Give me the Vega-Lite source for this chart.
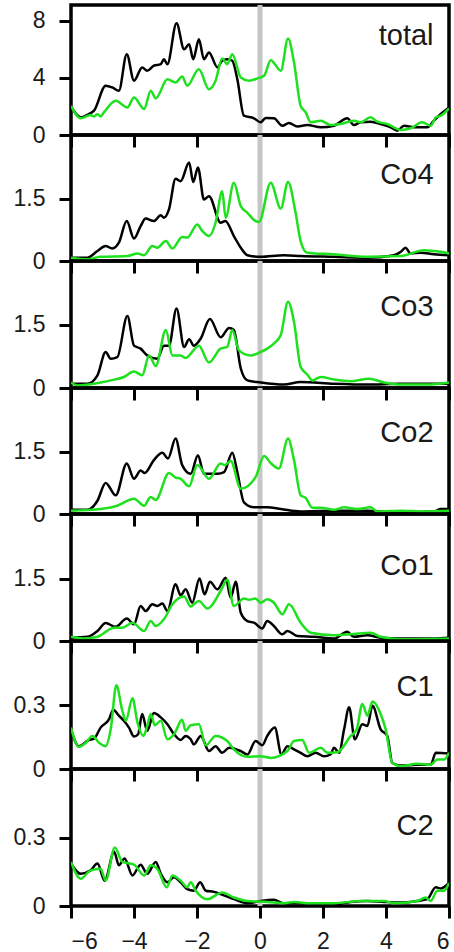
{
"$schema":"https://vega.github.io/schema/vega-lite/v6.json",
"padding":{"left":11,"top":0,"right":0,"bottom":0},
"spacing":0,
"bounds":"flush",
"config":{"view":{"stroke":"#000","strokeWidth":3.5},"font":"Liberation Sans",
"axis":{"domain":false,"grid":false,"tickColor":"#000","tickWidth":3,"tickSize":12,"labelFont":"Liberation Sans","labelFontSize":23,"labelColor":"#1a1a1a","title":null,"format":".2~g"}},
"datasets":{"pdos":[
{"p":"total","s":"k","x":-6,"y":2.0},{"p":"total","s":"k","x":-5.69,"y":1.24},{"p":"total","s":"k","x":-5.43,"y":1.47},{"p":"total","s":"k","x":-5.27,"y":1.7},{"p":"total","s":"k","x":-4.9,"y":3.45},{"p":"total","s":"k","x":-4.69,"y":3.33},{"p":"total","s":"k","x":-4.48,"y":3.1},{"p":"total","s":"k","x":-4.23,"y":5.66},{"p":"total","s":"k","x":-4.0,"y":3.8},{"p":"total","s":"k","x":-3.74,"y":4.73},{"p":"total","s":"k","x":-3.58,"y":4.5},{"p":"total","s":"k","x":-3.37,"y":4.85},{"p":"total","s":"k","x":-3.15,"y":4.96},{"p":"total","s":"k","x":-3.05,"y":5.3},{"p":"total","s":"k","x":-2.94,"y":4.96},{"p":"total","s":"k","x":-2.65,"y":7.83},{"p":"total","s":"k","x":-2.41,"y":6.0},{"p":"total","s":"k","x":-2.25,"y":6.36},{"p":"total","s":"k","x":-2.12,"y":5.3},{"p":"total","s":"k","x":-1.94,"y":6.7},{"p":"total","s":"k","x":-1.78,"y":5.3},{"p":"total","s":"k","x":-1.62,"y":5.78},{"p":"total","s":"k","x":-1.35,"y":4.73},{"p":"total","s":"k","x":-1.2,"y":5.2},{"p":"total","s":"k","x":-1.04,"y":5.3},{"p":"total","s":"k","x":-0.88,"y":5.2},{"p":"total","s":"k","x":-0.72,"y":3.9},{"p":"total","s":"k","x":-0.51,"y":1.35},{"p":"total","s":"k","x":-0.19,"y":1.17},{"p":"total","s":"k","x":0.02,"y":0.89},{"p":"total","s":"k","x":0.18,"y":1.19},{"p":"total","s":"k","x":0.44,"y":1.17},{"p":"total","s":"k","x":0.71,"y":0.65},{"p":"total","s":"k","x":0.92,"y":0.84},{"p":"total","s":"k","x":1.19,"y":0.6},{"p":"total","s":"k","x":1.5,"y":0.7},{"p":"total","s":"k","x":1.93,"y":0.54},{"p":"total","s":"k","x":2.35,"y":0.65},{"p":"total","s":"k","x":2.77,"y":1.17},{"p":"total","s":"k","x":2.98,"y":0.7},{"p":"total","s":"k","x":3.2,"y":0.89},{"p":"total","s":"k","x":3.51,"y":0.93},{"p":"total","s":"k","x":3.83,"y":0.77},{"p":"total","s":"k","x":4.15,"y":0.54},{"p":"total","s":"k","x":4.36,"y":0.3},{"p":"total","s":"k","x":4.57,"y":0.65},{"p":"total","s":"k","x":4.89,"y":0.54},{"p":"total","s":"k","x":5.31,"y":0.54},{"p":"total","s":"k","x":5.52,"y":1.0},{"p":"total","s":"k","x":5.74,"y":1.47},{"p":"total","s":"k","x":6.0,"y":1.93},
{"p":"total","s":"g","x":-6,"y":2.05},{"p":"total","s":"g","x":-5.69,"y":1.17},{"p":"total","s":"g","x":-5.38,"y":1.4},{"p":"total","s":"g","x":-5.27,"y":1.3},{"p":"total","s":"g","x":-5.16,"y":1.45},{"p":"total","s":"g","x":-5.06,"y":1.3},{"p":"total","s":"g","x":-4.95,"y":1.6},{"p":"total","s":"g","x":-4.58,"y":2.4},{"p":"total","s":"g","x":-4.21,"y":1.93},{"p":"total","s":"g","x":-4.0,"y":2.63},{"p":"total","s":"g","x":-3.68,"y":1.82},{"p":"total","s":"g","x":-3.47,"y":3.1},{"p":"total","s":"g","x":-3.31,"y":2.56},{"p":"total","s":"g","x":-2.94,"y":3.9},{"p":"total","s":"g","x":-2.68,"y":3.68},{"p":"total","s":"g","x":-2.47,"y":4.1},{"p":"total","s":"g","x":-2.31,"y":3.45},{"p":"total","s":"g","x":-1.94,"y":4.6},{"p":"total","s":"g","x":-1.62,"y":3.2},{"p":"total","s":"g","x":-1.41,"y":3.8},{"p":"total","s":"g","x":-1.2,"y":5.36},{"p":"total","s":"g","x":-1.04,"y":4.96},{"p":"total","s":"g","x":-0.88,"y":5.66},{"p":"total","s":"g","x":-0.61,"y":4.03},{"p":"total","s":"g","x":-0.35,"y":3.8},{"p":"total","s":"g","x":-0.08,"y":3.96},{"p":"total","s":"g","x":0.13,"y":4.15},{"p":"total","s":"g","x":0.34,"y":5.24},{"p":"total","s":"g","x":0.66,"y":4.5},{"p":"total","s":"g","x":0.89,"y":6.76},{"p":"total","s":"g","x":1.08,"y":5.08},{"p":"total","s":"g","x":1.29,"y":2.05},{"p":"total","s":"g","x":1.45,"y":1.58},{"p":"total","s":"g","x":1.61,"y":0.89},{"p":"total","s":"g","x":1.93,"y":1.0},{"p":"total","s":"g","x":2.24,"y":0.7},{"p":"total","s":"g","x":2.56,"y":0.77},{"p":"total","s":"g","x":2.98,"y":1.0},{"p":"total","s":"g","x":3.2,"y":0.89},{"p":"total","s":"g","x":3.51,"y":1.24},{"p":"total","s":"g","x":3.72,"y":0.93},{"p":"total","s":"g","x":4.04,"y":0.77},{"p":"total","s":"g","x":4.47,"y":0.35},{"p":"total","s":"g","x":4.78,"y":0.47},{"p":"total","s":"g","x":5.15,"y":0.89},{"p":"total","s":"g","x":5.42,"y":0.65},{"p":"total","s":"g","x":5.58,"y":1.24},{"p":"total","s":"g","x":5.74,"y":1.35},{"p":"total","s":"g","x":6.0,"y":1.86},
{"p":"Co4","s":"k","x":-6,"y":0.08},{"p":"Co4","s":"k","x":-5.48,"y":0.08},{"p":"Co4","s":"k","x":-5.16,"y":0.24},{"p":"Co4","s":"k","x":-4.9,"y":0.36},{"p":"Co4","s":"k","x":-4.69,"y":0.3},{"p":"Co4","s":"k","x":-4.48,"y":0.44},{"p":"Co4","s":"k","x":-4.23,"y":0.96},{"p":"Co4","s":"k","x":-4.0,"y":0.54},{"p":"Co4","s":"k","x":-3.79,"y":0.84},{"p":"Co4","s":"k","x":-3.63,"y":1.02},{"p":"Co4","s":"k","x":-3.37,"y":0.96},{"p":"Co4","s":"k","x":-3.15,"y":1.1},{"p":"Co4","s":"k","x":-3.05,"y":1.04},{"p":"Co4","s":"k","x":-2.89,"y":1.24},{"p":"Co4","s":"k","x":-2.68,"y":1.98},{"p":"Co4","s":"k","x":-2.52,"y":1.92},{"p":"Co4","s":"k","x":-2.25,"y":2.37},{"p":"Co4","s":"k","x":-2.12,"y":1.9},{"p":"Co4","s":"k","x":-1.97,"y":2.25},{"p":"Co4","s":"k","x":-1.78,"y":1.48},{"p":"Co4","s":"k","x":-1.62,"y":1.56},{"p":"Co4","s":"k","x":-1.25,"y":0.92},{"p":"Co4","s":"k","x":-1.1,"y":0.96},{"p":"Co4","s":"k","x":-0.83,"y":0.6},{"p":"Co4","s":"k","x":-0.61,"y":0.32},{"p":"Co4","s":"k","x":-0.4,"y":0.14},{"p":"Co4","s":"k","x":0.02,"y":0.1},{"p":"Co4","s":"k","x":0.76,"y":0.14},{"p":"Co4","s":"k","x":1.29,"y":0.12},{"p":"Co4","s":"k","x":2.35,"y":0.1},{"p":"Co4","s":"k","x":3.41,"y":0.08},{"p":"Co4","s":"k","x":4.25,"y":0.14},{"p":"Co4","s":"k","x":4.47,"y":0.22},{"p":"Co4","s":"k","x":4.62,"y":0.32},{"p":"Co4","s":"k","x":4.78,"y":0.18},{"p":"Co4","s":"k","x":5.1,"y":0.2},{"p":"Co4","s":"k","x":5.52,"y":0.16},{"p":"Co4","s":"k","x":6.0,"y":0.14},
{"p":"Co4","s":"g","x":-6,"y":0.08},{"p":"Co4","s":"g","x":-5.48,"y":0.04},{"p":"Co4","s":"g","x":-5.06,"y":0.1},{"p":"Co4","s":"g","x":-4.21,"y":0.12},{"p":"Co4","s":"g","x":-3.89,"y":0.18},{"p":"Co4","s":"g","x":-3.68,"y":0.14},{"p":"Co4","s":"g","x":-3.42,"y":0.36},{"p":"Co4","s":"g","x":-3.26,"y":0.32},{"p":"Co4","s":"g","x":-2.99,"y":0.48},{"p":"Co4","s":"g","x":-2.78,"y":0.3},{"p":"Co4","s":"g","x":-2.47,"y":0.58},{"p":"Co4","s":"g","x":-2.31,"y":0.56},{"p":"Co4","s":"g","x":-1.99,"y":0.88},{"p":"Co4","s":"g","x":-1.83,"y":0.72},{"p":"Co4","s":"g","x":-1.62,"y":0.6},{"p":"Co4","s":"g","x":-1.41,"y":0.92},{"p":"Co4","s":"g","x":-1.2,"y":1.68},{"p":"Co4","s":"g","x":-1.09,"y":1.04},{"p":"Co4","s":"g","x":-0.83,"y":1.88},{"p":"Co4","s":"g","x":-0.61,"y":1.32},{"p":"Co4","s":"g","x":-0.4,"y":1.16},{"p":"Co4","s":"g","x":-0.14,"y":0.96},{"p":"Co4","s":"g","x":-0.03,"y":0.94},{"p":"Co4","s":"g","x":0.34,"y":1.88},{"p":"Co4","s":"g","x":0.66,"y":1.26},{"p":"Co4","s":"g","x":0.89,"y":1.9},{"p":"Co4","s":"g","x":1.13,"y":1.16},{"p":"Co4","s":"g","x":1.29,"y":0.48},{"p":"Co4","s":"g","x":1.5,"y":0.2},{"p":"Co4","s":"g","x":2.35,"y":0.16},{"p":"Co4","s":"g","x":3.41,"y":0.1},{"p":"Co4","s":"g","x":4.47,"y":0.12},{"p":"Co4","s":"g","x":5.21,"y":0.26},{"p":"Co4","s":"g","x":5.52,"y":0.24},{"p":"Co4","s":"g","x":5.74,"y":0.22},{"p":"Co4","s":"g","x":6.0,"y":0.18},
{"p":"Co3","s":"k","x":-6,"y":0.1},{"p":"Co3","s":"k","x":-5.48,"y":0.1},{"p":"Co3","s":"k","x":-5.16,"y":0.3},{"p":"Co3","s":"k","x":-4.9,"y":0.85},{"p":"Co3","s":"k","x":-4.74,"y":0.69},{"p":"Co3","s":"k","x":-4.53,"y":0.73},{"p":"Co3","s":"k","x":-4.21,"y":1.7},{"p":"Co3","s":"k","x":-4.0,"y":1.0},{"p":"Co3","s":"k","x":-3.79,"y":0.93},{"p":"Co3","s":"k","x":-3.58,"y":0.77},{"p":"Co3","s":"k","x":-3.26,"y":0.69},{"p":"Co3","s":"k","x":-3.05,"y":1.0},{"p":"Co3","s":"k","x":-2.89,"y":1.0},{"p":"Co3","s":"k","x":-2.65,"y":1.88},{"p":"Co3","s":"k","x":-2.41,"y":0.97},{"p":"Co3","s":"k","x":-2.25,"y":1.15},{"p":"Co3","s":"k","x":-2.1,"y":1.0},{"p":"Co3","s":"k","x":-1.88,"y":1.17},{"p":"Co3","s":"k","x":-1.59,"y":1.63},{"p":"Co3","s":"k","x":-1.25,"y":1.2},{"p":"Co3","s":"k","x":-0.98,"y":1.42},{"p":"Co3","s":"k","x":-0.83,"y":1.37},{"p":"Co3","s":"k","x":-0.61,"y":0.46},{"p":"Co3","s":"k","x":-0.4,"y":0.18},{"p":"Co3","s":"k","x":0.02,"y":0.13},{"p":"Co3","s":"k","x":0.76,"y":0.08},{"p":"Co3","s":"k","x":1.29,"y":0.14},{"p":"Co3","s":"k","x":2.35,"y":0.1},{"p":"Co3","s":"k","x":3.41,"y":0.08},{"p":"Co3","s":"k","x":4.47,"y":0.1},{"p":"Co3","s":"k","x":6.0,"y":0.1},
{"p":"Co3","s":"g","x":-6,"y":0.13},{"p":"Co3","s":"g","x":-5.8,"y":0.06},{"p":"Co3","s":"g","x":-5.06,"y":0.13},{"p":"Co3","s":"g","x":-4.74,"y":0.18},{"p":"Co3","s":"g","x":-4.32,"y":0.26},{"p":"Co3","s":"g","x":-4.0,"y":0.39},{"p":"Co3","s":"g","x":-3.74,"y":0.3},{"p":"Co3","s":"g","x":-3.52,"y":0.77},{"p":"Co3","s":"g","x":-3.31,"y":0.52},{"p":"Co3","s":"g","x":-2.99,"y":1.37},{"p":"Co3","s":"g","x":-2.78,"y":0.77},{"p":"Co3","s":"g","x":-2.52,"y":0.77},{"p":"Co3","s":"g","x":-2.36,"y":0.71},{"p":"Co3","s":"g","x":-1.94,"y":1.0},{"p":"Co3","s":"g","x":-1.62,"y":0.6},{"p":"Co3","s":"g","x":-1.25,"y":0.93},{"p":"Co3","s":"g","x":-1.04,"y":0.97},{"p":"Co3","s":"g","x":-0.88,"y":1.37},{"p":"Co3","s":"g","x":-0.67,"y":0.89},{"p":"Co3","s":"g","x":-0.3,"y":0.77},{"p":"Co3","s":"g","x":0.02,"y":0.85},{"p":"Co3","s":"g","x":0.23,"y":0.93},{"p":"Co3","s":"g","x":0.44,"y":1.05},{"p":"Co3","s":"g","x":0.66,"y":1.25},{"p":"Co3","s":"g","x":0.89,"y":2.04},{"p":"Co3","s":"g","x":1.08,"y":1.56},{"p":"Co3","s":"g","x":1.29,"y":0.5},{"p":"Co3","s":"g","x":1.5,"y":0.32},{"p":"Co3","s":"g","x":1.66,"y":0.18},{"p":"Co3","s":"g","x":1.93,"y":0.26},{"p":"Co3","s":"g","x":2.35,"y":0.2},{"p":"Co3","s":"g","x":2.88,"y":0.16},{"p":"Co3","s":"g","x":3.46,"y":0.22},{"p":"Co3","s":"g","x":3.94,"y":0.13},{"p":"Co3","s":"g","x":4.47,"y":0.08},{"p":"Co3","s":"g","x":5.31,"y":0.08},{"p":"Co3","s":"g","x":6.0,"y":0.13},
{"p":"Co2","s":"k","x":-6,"y":0.1},{"p":"Co2","s":"k","x":-5.48,"y":0.1},{"p":"Co2","s":"k","x":-5.16,"y":0.32},{"p":"Co2","s":"k","x":-4.9,"y":0.75},{"p":"Co2","s":"k","x":-4.58,"y":0.45},{"p":"Co2","s":"k","x":-4.23,"y":1.22},{"p":"Co2","s":"k","x":-4.0,"y":0.85},{"p":"Co2","s":"k","x":-3.79,"y":1.05},{"p":"Co2","s":"k","x":-3.66,"y":0.99},{"p":"Co2","s":"k","x":-3.37,"y":1.3},{"p":"Co2","s":"k","x":-3.1,"y":1.48},{"p":"Co2","s":"k","x":-2.92,"y":1.34},{"p":"Co2","s":"k","x":-2.68,"y":1.82},{"p":"Co2","s":"k","x":-2.47,"y":1.18},{"p":"Co2","s":"k","x":-2.2,"y":0.97},{"p":"Co2","s":"k","x":-1.97,"y":1.42},{"p":"Co2","s":"k","x":-1.78,"y":0.97},{"p":"Co2","s":"k","x":-1.35,"y":0.97},{"p":"Co2","s":"k","x":-1.14,"y":1.01},{"p":"Co2","s":"k","x":-0.88,"y":1.48},{"p":"Co2","s":"k","x":-0.72,"y":1.01},{"p":"Co2","s":"k","x":-0.51,"y":0.28},{"p":"Co2","s":"k","x":-0.19,"y":0.16},{"p":"Co2","s":"k","x":0.23,"y":0.16},{"p":"Co2","s":"k","x":0.66,"y":0.12},{"p":"Co2","s":"k","x":1.29,"y":0.06},{"p":"Co2","s":"k","x":2.35,"y":0.08},{"p":"Co2","s":"k","x":3.41,"y":0.08},{"p":"Co2","s":"k","x":4.47,"y":0.04},{"p":"Co2","s":"k","x":5.52,"y":0.06},{"p":"Co2","s":"k","x":5.74,"y":0.12},{"p":"Co2","s":"k","x":6.0,"y":0.12},
{"p":"Co2","s":"g","x":-6,"y":0.08},{"p":"Co2","s":"g","x":-5.06,"y":0.12},{"p":"Co2","s":"g","x":-4.53,"y":0.2},{"p":"Co2","s":"g","x":-4.0,"y":0.37},{"p":"Co2","s":"g","x":-3.68,"y":0.2},{"p":"Co2","s":"g","x":-3.47,"y":0.41},{"p":"Co2","s":"g","x":-3.31,"y":0.34},{"p":"Co2","s":"g","x":-2.89,"y":0.99},{"p":"Co2","s":"g","x":-2.68,"y":0.88},{"p":"Co2","s":"g","x":-2.52,"y":0.85},{"p":"Co2","s":"g","x":-2.25,"y":0.67},{"p":"Co2","s":"g","x":-1.99,"y":1.18},{"p":"Co2","s":"g","x":-1.62,"y":0.85},{"p":"Co2","s":"g","x":-1.25,"y":1.22},{"p":"Co2","s":"g","x":-1.12,"y":1.18},{"p":"Co2","s":"g","x":-0.93,"y":1.28},{"p":"Co2","s":"g","x":-0.61,"y":0.61},{"p":"Co2","s":"g","x":-0.14,"y":0.89},{"p":"Co2","s":"g","x":0.13,"y":1.4},{"p":"Co2","s":"g","x":0.34,"y":1.23},{"p":"Co2","s":"g","x":0.6,"y":1.1},{"p":"Co2","s":"g","x":0.89,"y":1.82},{"p":"Co2","s":"g","x":1.08,"y":1.3},{"p":"Co2","s":"g","x":1.29,"y":0.45},{"p":"Co2","s":"g","x":1.45,"y":0.39},{"p":"Co2","s":"g","x":1.66,"y":0.15},{"p":"Co2","s":"g","x":1.93,"y":0.15},{"p":"Co2","s":"g","x":2.35,"y":0.1},{"p":"Co2","s":"g","x":2.67,"y":0.16},{"p":"Co2","s":"g","x":3.09,"y":0.12},{"p":"Co2","s":"g","x":3.51,"y":0.16},{"p":"Co2","s":"g","x":3.72,"y":0.06},{"p":"Co2","s":"g","x":4.47,"y":0.08},{"p":"Co2","s":"g","x":5.21,"y":0.06},{"p":"Co2","s":"g","x":6.0,"y":0.08},
{"p":"Co1","s":"k","x":-6,"y":0.08},{"p":"Co1","s":"k","x":-5.48,"y":0.1},{"p":"Co1","s":"k","x":-5.16,"y":0.24},{"p":"Co1","s":"k","x":-4.9,"y":0.43},{"p":"Co1","s":"k","x":-4.58,"y":0.34},{"p":"Co1","s":"k","x":-4.23,"y":0.54},{"p":"Co1","s":"k","x":-4.0,"y":0.4},{"p":"Co1","s":"k","x":-3.79,"y":0.84},{"p":"Co1","s":"k","x":-3.63,"y":0.72},{"p":"Co1","s":"k","x":-3.42,"y":0.88},{"p":"Co1","s":"k","x":-3.26,"y":0.84},{"p":"Co1","s":"k","x":-3.1,"y":0.9},{"p":"Co1","s":"k","x":-2.94,"y":0.72},{"p":"Co1","s":"k","x":-2.68,"y":1.36},{"p":"Co1","s":"k","x":-2.52,"y":1.1},{"p":"Co1","s":"k","x":-2.36,"y":1.24},{"p":"Co1","s":"k","x":-2.15,"y":0.92},{"p":"Co1","s":"k","x":-1.92,"y":1.5},{"p":"Co1","s":"k","x":-1.76,"y":1.12},{"p":"Co1","s":"k","x":-1.59,"y":1.42},{"p":"Co1","s":"k","x":-1.35,"y":1.24},{"p":"Co1","s":"k","x":-1.09,"y":1.52},{"p":"Co1","s":"k","x":-0.93,"y":1.04},{"p":"Co1","s":"k","x":-0.77,"y":1.42},{"p":"Co1","s":"k","x":-0.61,"y":0.68},{"p":"Co1","s":"k","x":-0.4,"y":0.48},{"p":"Co1","s":"k","x":-0.19,"y":0.44},{"p":"Co1","s":"k","x":0.07,"y":0.3},{"p":"Co1","s":"k","x":0.23,"y":0.48},{"p":"Co1","s":"k","x":0.44,"y":0.36},{"p":"Co1","s":"k","x":0.71,"y":0.16},{"p":"Co1","s":"k","x":0.87,"y":0.24},{"p":"Co1","s":"k","x":1.19,"y":0.12},{"p":"Co1","s":"k","x":1.71,"y":0.1},{"p":"Co1","s":"k","x":2.35,"y":0.06},{"p":"Co1","s":"k","x":2.77,"y":0.22},{"p":"Co1","s":"k","x":2.98,"y":0.1},{"p":"Co1","s":"k","x":3.41,"y":0.14},{"p":"Co1","s":"k","x":3.83,"y":0.08},{"p":"Co1","s":"k","x":4.47,"y":0.06},{"p":"Co1","s":"k","x":5.52,"y":0.06},{"p":"Co1","s":"k","x":6.0,"y":0.08},
{"p":"Co1","s":"g","x":-6,"y":0.1},{"p":"Co1","s":"g","x":-5.59,"y":0.06},{"p":"Co1","s":"g","x":-5.16,"y":0.1},{"p":"Co1","s":"g","x":-4.63,"y":0.32},{"p":"Co1","s":"g","x":-4.37,"y":0.32},{"p":"Co1","s":"g","x":-4.05,"y":0.44},{"p":"Co1","s":"g","x":-3.68,"y":0.24},{"p":"Co1","s":"g","x":-3.47,"y":0.48},{"p":"Co1","s":"g","x":-3.31,"y":0.36},{"p":"Co1","s":"g","x":-3.05,"y":0.52},{"p":"Co1","s":"g","x":-2.78,"y":0.88},{"p":"Co1","s":"g","x":-2.41,"y":1.07},{"p":"Co1","s":"g","x":-2.2,"y":0.83},{"p":"Co1","s":"g","x":-1.94,"y":0.96},{"p":"Co1","s":"g","x":-1.67,"y":0.78},{"p":"Co1","s":"g","x":-1.25,"y":1.2},{"p":"Co1","s":"g","x":-1.04,"y":1.47},{"p":"Co1","s":"g","x":-0.83,"y":0.84},{"p":"Co1","s":"g","x":-0.51,"y":1.02},{"p":"Co1","s":"g","x":-0.35,"y":0.99},{"p":"Co1","s":"g","x":-0.14,"y":1.02},{"p":"Co1","s":"g","x":0.02,"y":0.92},{"p":"Co1","s":"g","x":0.23,"y":1.0},{"p":"Co1","s":"g","x":0.44,"y":0.92},{"p":"Co1","s":"g","x":0.71,"y":0.64},{"p":"Co1","s":"g","x":0.92,"y":0.88},{"p":"Co1","s":"g","x":1.29,"y":0.44},{"p":"Co1","s":"g","x":1.61,"y":0.2},{"p":"Co1","s":"g","x":2.35,"y":0.14},{"p":"Co1","s":"g","x":2.88,"y":0.16},{"p":"Co1","s":"g","x":3.51,"y":0.2},{"p":"Co1","s":"g","x":3.83,"y":0.1},{"p":"Co1","s":"g","x":4.47,"y":0.04},{"p":"Co1","s":"g","x":6.0,"y":0.06},
{"p":"C1","s":"k","x":-6,"y":0.186},{"p":"C1","s":"k","x":-5.75,"y":0.107},{"p":"C1","s":"k","x":-5.43,"y":0.136},{"p":"C1","s":"k","x":-5.27,"y":0.142},{"p":"C1","s":"k","x":-5.06,"y":0.194},{"p":"C1","s":"k","x":-4.79,"y":0.234},{"p":"C1","s":"k","x":-4.66,"y":0.278},{"p":"C1","s":"k","x":-4.48,"y":0.25},{"p":"C1","s":"k","x":-4.32,"y":0.226},{"p":"C1","s":"k","x":-4.16,"y":0.194},{"p":"C1","s":"k","x":-4.0,"y":0.152},{"p":"C1","s":"k","x":-3.87,"y":0.163},{"p":"C1","s":"k","x":-3.74,"y":0.258},{"p":"C1","s":"k","x":-3.58,"y":0.179},{"p":"C1","s":"k","x":-3.37,"y":0.262},{"p":"C1","s":"k","x":-3.15,"y":0.242},{"p":"C1","s":"k","x":-2.94,"y":0.21},{"p":"C1","s":"k","x":-2.73,"y":0.163},{"p":"C1","s":"k","x":-2.52,"y":0.136},{"p":"C1","s":"k","x":-2.36,"y":0.155},{"p":"C1","s":"k","x":-2.2,"y":0.139},{"p":"C1","s":"k","x":-2.1,"y":0.115},{"p":"C1","s":"k","x":-1.88,"y":0.155},{"p":"C1","s":"k","x":-1.62,"y":0.084},{"p":"C1","s":"k","x":-1.41,"y":0.107},{"p":"C1","s":"k","x":-1.2,"y":0.076},{"p":"C1","s":"k","x":-0.98,"y":0.1},{"p":"C1","s":"k","x":-0.61,"y":0.084},{"p":"C1","s":"k","x":-0.4,"y":0.068},{"p":"C1","s":"k","x":-0.14,"y":0.131},{"p":"C1","s":"k","x":0.07,"y":0.111},{"p":"C1","s":"k","x":0.23,"y":0.155},{"p":"C1","s":"k","x":0.47,"y":0.194},{"p":"C1","s":"k","x":0.68,"y":0.068},{"p":"C1","s":"k","x":0.87,"y":0.107},{"p":"C1","s":"k","x":1.08,"y":0.092},{"p":"C1","s":"k","x":1.29,"y":0.076},{"p":"C1","s":"k","x":1.5,"y":0.06},{"p":"C1","s":"k","x":1.77,"y":0.076},{"p":"C1","s":"k","x":2.03,"y":0.06},{"p":"C1","s":"k","x":2.24,"y":0.068},{"p":"C1","s":"k","x":2.35,"y":0.1},{"p":"C1","s":"k","x":2.51,"y":0.076},{"p":"C1","s":"k","x":2.67,"y":0.186},{"p":"C1","s":"k","x":2.83,"y":0.289},{"p":"C1","s":"k","x":3.01,"y":0.139},{"p":"C1","s":"k","x":3.25,"y":0.21},{"p":"C1","s":"k","x":3.41,"y":0.202},{"p":"C1","s":"k","x":3.57,"y":0.297},{"p":"C1","s":"k","x":3.83,"y":0.186},{"p":"C1","s":"k","x":4.04,"y":0.155},{"p":"C1","s":"k","x":4.2,"y":0.028},{"p":"C1","s":"k","x":4.47,"y":0.016},{"p":"C1","s":"k","x":4.99,"y":0.02},{"p":"C1","s":"k","x":5.42,"y":0.02},{"p":"C1","s":"k","x":5.58,"y":0.076},{"p":"C1","s":"k","x":6.0,"y":0.073},
{"p":"C1","s":"g","x":-6,"y":0.194},{"p":"C1","s":"g","x":-5.75,"y":0.104},{"p":"C1","s":"g","x":-5.53,"y":0.123},{"p":"C1","s":"g","x":-5.32,"y":0.155},{"p":"C1","s":"g","x":-5.11,"y":0.123},{"p":"C1","s":"g","x":-4.9,"y":0.107},{"p":"C1","s":"g","x":-4.74,"y":0.186},{"p":"C1","s":"g","x":-4.56,"y":0.392},{"p":"C1","s":"g","x":-4.37,"y":0.273},{"p":"C1","s":"g","x":-4.26,"y":0.226},{"p":"C1","s":"g","x":-4.05,"y":0.332},{"p":"C1","s":"g","x":-3.89,"y":0.218},{"p":"C1","s":"g","x":-3.7,"y":0.155},{"p":"C1","s":"g","x":-3.58,"y":0.202},{"p":"C1","s":"g","x":-3.47,"y":0.258},{"p":"C1","s":"g","x":-3.34,"y":0.205},{"p":"C1","s":"g","x":-3.15,"y":0.226},{"p":"C1","s":"g","x":-2.94,"y":0.139},{"p":"C1","s":"g","x":-2.73,"y":0.163},{"p":"C1","s":"g","x":-2.47,"y":0.231},{"p":"C1","s":"g","x":-2.36,"y":0.179},{"p":"C1","s":"g","x":-2.2,"y":0.205},{"p":"C1","s":"g","x":-1.94,"y":0.21},{"p":"C1","s":"g","x":-1.72,"y":0.111},{"p":"C1","s":"g","x":-1.41,"y":0.155},{"p":"C1","s":"g","x":-1.04,"y":0.131},{"p":"C1","s":"g","x":-0.83,"y":0.092},{"p":"C1","s":"g","x":-0.4,"y":0.057},{"p":"C1","s":"g","x":0.02,"y":0.06},{"p":"C1","s":"g","x":0.34,"y":0.052},{"p":"C1","s":"g","x":0.87,"y":0.084},{"p":"C1","s":"g","x":1.08,"y":0.131},{"p":"C1","s":"g","x":1.34,"y":0.136},{"p":"C1","s":"g","x":1.56,"y":0.076},{"p":"C1","s":"g","x":1.93,"y":0.1},{"p":"C1","s":"g","x":2.14,"y":0.076},{"p":"C1","s":"g","x":2.46,"y":0.079},{"p":"C1","s":"g","x":2.88,"y":0.155},{"p":"C1","s":"g","x":3.07,"y":0.186},{"p":"C1","s":"g","x":3.25,"y":0.305},{"p":"C1","s":"g","x":3.41,"y":0.25},{"p":"C1","s":"g","x":3.57,"y":0.316},{"p":"C1","s":"g","x":3.83,"y":0.258},{"p":"C1","s":"g","x":3.99,"y":0.186},{"p":"C1","s":"g","x":4.2,"y":0.028},{"p":"C1","s":"g","x":4.47,"y":0.013},{"p":"C1","s":"g","x":4.99,"y":0.025},{"p":"C1","s":"g","x":5.42,"y":0.02},{"p":"C1","s":"g","x":5.63,"y":0.044},{"p":"C1","s":"g","x":5.84,"y":0.044},{"p":"C1","s":"g","x":6.0,"y":0.076},
{"p":"C2","s":"k","x":-6,"y":0.186},{"p":"C2","s":"k","x":-5.69,"y":0.141},{"p":"C2","s":"k","x":-5.38,"y":0.156},{"p":"C2","s":"k","x":-5.16,"y":0.186},{"p":"C2","s":"k","x":-4.93,"y":0.111},{"p":"C2","s":"k","x":-4.63,"y":0.238},{"p":"C2","s":"k","x":-4.48,"y":0.178},{"p":"C2","s":"k","x":-4.3,"y":0.208},{"p":"C2","s":"k","x":-4.05,"y":0.134},{"p":"C2","s":"k","x":-3.79,"y":0.181},{"p":"C2","s":"k","x":-3.58,"y":0.141},{"p":"C2","s":"k","x":-3.31,"y":0.193},{"p":"C2","s":"k","x":-3.15,"y":0.141},{"p":"C2","s":"k","x":-2.94,"y":0.104},{"p":"C2","s":"k","x":-2.73,"y":0.126},{"p":"C2","s":"k","x":-2.52,"y":0.104},{"p":"C2","s":"k","x":-2.31,"y":0.074},{"p":"C2","s":"k","x":-2.1,"y":0.067},{"p":"C2","s":"k","x":-1.9,"y":0.104},{"p":"C2","s":"k","x":-1.72,"y":0.067},{"p":"C2","s":"k","x":-1.46,"y":0.062},{"p":"C2","s":"k","x":-1.25,"y":0.052},{"p":"C2","s":"k","x":-0.83,"y":0.03},{"p":"C2","s":"k","x":-0.4,"y":0.012},{"p":"C2","s":"k","x":0.02,"y":0.022},{"p":"C2","s":"k","x":0.44,"y":0.027},{"p":"C2","s":"k","x":0.76,"y":0.012},{"p":"C2","s":"k","x":1.29,"y":0.012},{"p":"C2","s":"k","x":2.35,"y":0.007},{"p":"C2","s":"k","x":2.88,"y":0.018},{"p":"C2","s":"k","x":3.41,"y":0.022},{"p":"C2","s":"k","x":3.94,"y":0.018},{"p":"C2","s":"k","x":4.47,"y":0.015},{"p":"C2","s":"k","x":4.99,"y":0.022},{"p":"C2","s":"k","x":5.31,"y":0.03},{"p":"C2","s":"k","x":5.58,"y":0.082},{"p":"C2","s":"k","x":5.74,"y":0.077},{"p":"C2","s":"k","x":6.0,"y":0.101},
{"p":"C2","s":"g","x":-6,"y":0.193},{"p":"C2","s":"g","x":-5.69,"y":0.119},{"p":"C2","s":"g","x":-5.38,"y":0.156},{"p":"C2","s":"g","x":-5.06,"y":0.163},{"p":"C2","s":"g","x":-4.9,"y":0.111},{"p":"C2","s":"g","x":-4.61,"y":0.256},{"p":"C2","s":"g","x":-4.37,"y":0.193},{"p":"C2","s":"g","x":-4.0,"y":0.181},{"p":"C2","s":"g","x":-3.68,"y":0.134},{"p":"C2","s":"g","x":-3.47,"y":0.178},{"p":"C2","s":"g","x":-3.26,"y":0.163},{"p":"C2","s":"g","x":-2.96,"y":0.082},{"p":"C2","s":"g","x":-2.78,"y":0.134},{"p":"C2","s":"g","x":-2.52,"y":0.111},{"p":"C2","s":"g","x":-2.31,"y":0.082},{"p":"C2","s":"g","x":-2.2,"y":0.104},{"p":"C2","s":"g","x":-2.04,"y":0.067},{"p":"C2","s":"g","x":-1.67,"y":0.03},{"p":"C2","s":"g","x":-1.2,"y":0.059},{"p":"C2","s":"g","x":-0.83,"y":0.037},{"p":"C2","s":"g","x":-0.4,"y":0.022},{"p":"C2","s":"g","x":0.23,"y":0.018},{"p":"C2","s":"g","x":0.76,"y":0.012},{"p":"C2","s":"g","x":1.08,"y":0.018},{"p":"C2","s":"g","x":1.5,"y":0.012},{"p":"C2","s":"g","x":2.35,"y":0.012},{"p":"C2","s":"g","x":3.2,"y":0.022},{"p":"C2","s":"g","x":3.94,"y":0.022},{"p":"C2","s":"g","x":4.25,"y":0.012},{"p":"C2","s":"g","x":4.99,"y":0.022},{"p":"C2","s":"g","x":5.26,"y":0.037},{"p":"C2","s":"g","x":5.42,"y":0.022},{"p":"C2","s":"g","x":5.63,"y":0.067},{"p":"C2","s":"g","x":5.84,"y":0.067},{"p":"C2","s":"g","x":6.0,"y":0.101}
]},
"vconcat":[
{"width":378,"height":130,"layer":[
{"data":{"values":[{}]},"mark":{"type":"rule","color":"#c6c6c6","strokeWidth":5},"encoding":{"x":{"datum":0,"type":"quantitative","scale":{"domain":[-6,6],"nice":false}}}},
{"data":{"name":"pdos"},"transform":[{"filter":"datum.p==='total'"}],"mark":{"type":"line","strokeWidth":2.5,"clip":true,"interpolate":"monotone"},"encoding":{"x":{"field":"x","type":"quantitative","scale":{"domain":[-6,6],"nice":false},"axis":{"values":[-6,-4,-2,0,2,4,6],"labels":false}},"y":{"field":"y","type":"quantitative","scale":{"domain":[0,9.1],"nice":false},"axis":{"values":[0,4,8],"labelPadding":14}},"color":{"field":"s","type":"nominal","scale":{"domain":["k","g"],"range":["#000000","#1ee11e"]},"legend":null}}},
{"data":{"values":[{"label":"total"}]},"mark":{"type":"text","align":"right","baseline":"alphabetic","fontSize":29,"font":"Liberation Sans","color":"#1a1a1a"},"encoding":{"x":{"datum":5.51,"type":"quantitative"},"y":{"datum":6.3,"type":"quantitative"},"text":{"field":"label"}}}
]},
{"width":378,"height":126,"layer":[
{"data":{"values":[{}]},"mark":{"type":"rule","color":"#c6c6c6","strokeWidth":5},"encoding":{"x":{"datum":0,"type":"quantitative","scale":{"domain":[-6,6],"nice":false}}}},
{"data":{"name":"pdos"},"transform":[{"filter":"datum.p==='Co4'"}],"mark":{"type":"line","strokeWidth":2.5,"clip":true,"interpolate":"monotone"},"encoding":{"x":{"field":"x","type":"quantitative","scale":{"domain":[-6,6],"nice":false},"axis":{"values":[-6,-4,-2,0,2,4,6],"labels":false}},"y":{"field":"y","type":"quantitative","scale":{"domain":[0,3.03],"nice":false},"axis":{"values":[0,1.5],"labelPadding":14}},"color":{"field":"s","type":"nominal","scale":{"domain":["k","g"],"range":["#000000","#1ee11e"]},"legend":null}}},
{"data":{"values":[{"label":"Co4"}]},"mark":{"type":"text","align":"right","baseline":"alphabetic","fontSize":29,"font":"Liberation Sans","color":"#1a1a1a"},"encoding":{"x":{"datum":5.51,"type":"quantitative"},"y":{"datum":1.84,"type":"quantitative"},"text":{"field":"label"}}}
]},
{"width":378,"height":127,"layer":[
{"data":{"values":[{}]},"mark":{"type":"rule","color":"#c6c6c6","strokeWidth":5},"encoding":{"x":{"datum":0,"type":"quantitative","scale":{"domain":[-6,6],"nice":false}}}},
{"data":{"name":"pdos"},"transform":[{"filter":"datum.p==='Co3'"}],"mark":{"type":"line","strokeWidth":2.5,"clip":true,"interpolate":"monotone"},"encoding":{"x":{"field":"x","type":"quantitative","scale":{"domain":[-6,6],"nice":false},"axis":{"values":[-6,-4,-2,0,2,4,6],"labels":false}},"y":{"field":"y","type":"quantitative","scale":{"domain":[0,3.0],"nice":false},"axis":{"values":[0,1.5],"labelPadding":14}},"color":{"field":"s","type":"nominal","scale":{"domain":["k","g"],"range":["#000000","#1ee11e"]},"legend":null}}},
{"data":{"values":[{"label":"Co3"}]},"mark":{"type":"text","align":"right","baseline":"alphabetic","fontSize":29,"font":"Liberation Sans","color":"#1a1a1a"},"encoding":{"x":{"datum":5.51,"type":"quantitative"},"y":{"datum":1.71,"type":"quantitative"},"text":{"field":"label"}}}
]},
{"width":378,"height":126,"layer":[
{"data":{"values":[{}]},"mark":{"type":"rule","color":"#c6c6c6","strokeWidth":5},"encoding":{"x":{"datum":0,"type":"quantitative","scale":{"domain":[-6,6],"nice":false}}}},
{"data":{"name":"pdos"},"transform":[{"filter":"datum.p==='Co2'"}],"mark":{"type":"line","strokeWidth":2.5,"clip":true,"interpolate":"monotone"},"encoding":{"x":{"field":"x","type":"quantitative","scale":{"domain":[-6,6],"nice":false},"axis":{"values":[-6,-4,-2,0,2,4,6],"labels":false}},"y":{"field":"y","type":"quantitative","scale":{"domain":[0,3.04],"nice":false},"axis":{"values":[0,1.5],"labelPadding":14}},"color":{"field":"s","type":"nominal","scale":{"domain":["k","g"],"range":["#000000","#1ee11e"]},"legend":null}}},
{"data":{"values":[{"label":"Co2"}]},"mark":{"type":"text","align":"right","baseline":"alphabetic","fontSize":29,"font":"Liberation Sans","color":"#1a1a1a"},"encoding":{"x":{"datum":5.51,"type":"quantitative"},"y":{"datum":1.73,"type":"quantitative"},"text":{"field":"label"}}}
]},
{"width":378,"height":127,"layer":[
{"data":{"values":[{}]},"mark":{"type":"rule","color":"#c6c6c6","strokeWidth":5},"encoding":{"x":{"datum":0,"type":"quantitative","scale":{"domain":[-6,6],"nice":false}}}},
{"data":{"name":"pdos"},"transform":[{"filter":"datum.p==='Co1'"}],"mark":{"type":"line","strokeWidth":2.5,"clip":true,"interpolate":"monotone"},"encoding":{"x":{"field":"x","type":"quantitative","scale":{"domain":[-6,6],"nice":false},"axis":{"values":[-6,-4,-2,0,2,4,6],"labels":false}},"y":{"field":"y","type":"quantitative","scale":{"domain":[0,3.05],"nice":false},"axis":{"values":[0,1.5],"labelPadding":14}},"color":{"field":"s","type":"nominal","scale":{"domain":["k","g"],"range":["#000000","#1ee11e"]},"legend":null}}},
{"data":{"values":[{"label":"Co1"}]},"mark":{"type":"text","align":"right","baseline":"alphabetic","fontSize":29,"font":"Liberation Sans","color":"#1a1a1a"},"encoding":{"x":{"datum":5.51,"type":"quantitative"},"y":{"datum":1.59,"type":"quantitative"},"text":{"field":"label"}}}
]},
{"width":378,"height":128,"layer":[
{"data":{"values":[{}]},"mark":{"type":"rule","color":"#c6c6c6","strokeWidth":5},"encoding":{"x":{"datum":0,"type":"quantitative","scale":{"domain":[-6,6],"nice":false}}}},
{"data":{"name":"pdos"},"transform":[{"filter":"datum.p==='C1'"}],"mark":{"type":"line","strokeWidth":2.5,"clip":true,"interpolate":"monotone"},"encoding":{"x":{"field":"x","type":"quantitative","scale":{"domain":[-6,6],"nice":false},"axis":{"values":[-6,-4,-2,0,2,4,6],"labels":false}},"y":{"field":"y","type":"quantitative","scale":{"domain":[0,0.6],"nice":false},"axis":{"values":[0,0.3],"labelPadding":14}},"color":{"field":"s","type":"nominal","scale":{"domain":["k","g"],"range":["#000000","#1ee11e"]},"legend":null}}},
{"data":{"values":[{"label":"C1"}]},"mark":{"type":"text","align":"right","baseline":"alphabetic","fontSize":29,"font":"Liberation Sans","color":"#1a1a1a"},"encoding":{"x":{"datum":5.51,"type":"quantitative"},"y":{"datum":0.341,"type":"quantitative"},"text":{"field":"label"}}}
]},
{"width":378,"height":137,"layer":[
{"data":{"values":[{}]},"mark":{"type":"rule","color":"#c6c6c6","strokeWidth":5},"encoding":{"x":{"datum":0,"type":"quantitative","scale":{"domain":[-6,6],"nice":false}}}},
{"data":{"name":"pdos"},"transform":[{"filter":"datum.p==='C2'"}],"mark":{"type":"line","strokeWidth":2.5,"clip":true,"interpolate":"monotone"},"encoding":{"x":{"field":"x","type":"quantitative","scale":{"domain":[-6,6],"nice":false},"axis":{"values":[-6,-4,-2,0,2,4,6],"labelPadding":12}},"y":{"field":"y","type":"quantitative","scale":{"domain":[0,0.6],"nice":false},"axis":{"values":[0,0.3],"labelPadding":14}},"color":{"field":"s","type":"nominal","scale":{"domain":["k","g"],"range":["#000000","#1ee11e"]},"legend":null}}},
{"data":{"values":[{"label":"C2"}]},"mark":{"type":"text","align":"right","baseline":"alphabetic","fontSize":29,"font":"Liberation Sans","color":"#1a1a1a"},"encoding":{"x":{"datum":5.51,"type":"quantitative"},"y":{"datum":0.31,"type":"quantitative"},"text":{"field":"label"}}}
]}
]
}
